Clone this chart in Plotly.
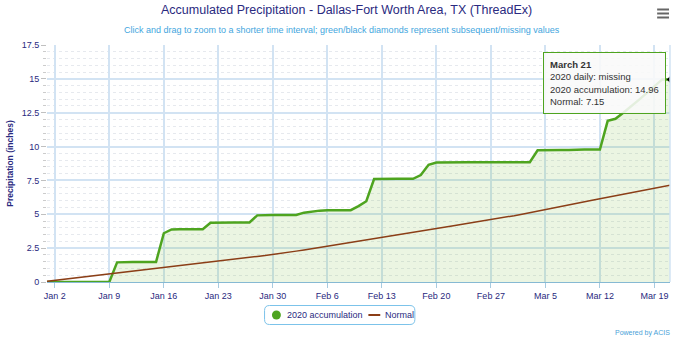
import pandas as pd
import plotly.graph_objects as go

# Daily dates, Jan 1 - Mar 21, 2020
dates = pd.date_range("2020-01-01", "2020-03-21", freq="D")

# Accumulated 2020 precipitation (inches), one value per day
accum_2020 = [
    # Jan 1-31
    0, 0, 0, 0, 0, 0, 0, 0, 0, 1.45,
    1.48, 1.48, 1.48, 1.48, 1.48, 3.60, 3.88, 3.90, 3.90, 3.90,
    3.90, 4.38, 4.40, 4.40, 4.40, 4.40, 4.40, 4.92, 4.95, 4.95,
    4.95,
    # Feb 1-29
    4.95, 4.95, 5.12, 5.20, 5.27, 5.30, 5.30, 5.30, 5.30, 5.60,
    5.96, 7.60, 7.62, 7.62, 7.62, 7.62, 7.62, 7.90, 8.65, 8.82,
    8.84, 8.85, 8.85, 8.85, 8.85, 8.85, 8.85, 8.85, 8.85,
    # Mar 1-21
    8.85, 8.85, 8.85, 9.72, 9.74, 9.74, 9.74, 9.74, 9.78, 9.78,
    9.78, 9.78, 11.90, 12.05, 12.50, 12.95, 13.45, 13.95, 14.45, 14.96,
    14.96,
]

# Normal accumulated precipitation (inches)
normal = [
    # Jan 1-31
    0.05, 0.12, 0.19, 0.25, 0.32, 0.39, 0.46, 0.53, 0.59, 0.66,
    0.73, 0.80, 0.87, 0.93, 1.00, 1.07, 1.14, 1.21, 1.27, 1.34,
    1.41, 1.48, 1.55, 1.61, 1.68, 1.75, 1.82, 1.89, 1.95, 2.02,
    2.09,
    # Feb 1-29
    2.18, 2.28, 2.37, 2.46, 2.56, 2.65, 2.74, 2.83, 2.93, 3.02,
    3.11, 3.21, 3.30, 3.39, 3.49, 3.58, 3.67, 3.76, 3.86, 3.95,
    4.04, 4.14, 4.23, 4.32, 4.42, 4.51, 4.60, 4.69, 4.79,
    # Mar 1-21
    4.90, 5.01, 5.13, 5.24, 5.35, 5.46, 5.58, 5.69, 5.80, 5.91,
    6.03, 6.14, 6.25, 6.36, 6.48, 6.59, 6.70, 6.81, 6.93, 7.04,
    7.15,
]

# Day with a missing daily value (black diamond)
missing_dates = ["2020-03-21"]
missing_values = [14.96]

tick_dates = ["2020-01-02", "2020-01-09", "2020-01-16", "2020-01-23", "2020-01-30",
              "2020-02-06", "2020-02-13", "2020-02-20", "2020-02-27", "2020-03-05",
              "2020-03-12", "2020-03-19"]
tick_labels = ["Jan 2", "Jan 9", "Jan 16", "Jan 23", "Jan 30", "Feb 6", "Feb 13",
               "Feb 20", "Feb 27", "Mar 5", "Mar 12", "Mar 19"]
y_ticks = [0, 2.5, 5, 7.5, 10, 12.5, 15, 17.5]
y_labels = ["0", "2.5", "5", "7.5", "10", "12.5", "15", "17.5"]

GREEN = "#4ea41f"
BROWN = "#8b3e17"
NAVY = "#2a2a80"
GRID = "#d2e3f3"
FONT = "Liberation Sans"

fig = go.Figure()

fig.add_trace(go.Scatter(
    x=dates, y=accum_2020, mode="lines", name="2020 accumulation",
    line=dict(color=GREEN, width=2.5), fill="tozeroy",
    fillcolor="rgba(120,190,60,0.15)", hoverinfo="skip",
))
fig.add_trace(go.Scatter(
    x=dates, y=normal, mode="lines", name="Normal",
    line=dict(color=BROWN, width=1.5), hoverinfo="skip",
))
fig.add_trace(go.Scatter(
    x=missing_dates, y=missing_values, mode="markers",
    marker=dict(symbol="diamond", size=5, color="black"), hoverinfo="skip",
))

# Helpers: pixel position on the page -> paper coordinates
L, R, T, B = 40, 670, 45, 282

def px(x):
    return (x - L) / (R - L)

def py(y):
    return (B - y) / (B - T)

def rounded_rect(x0, y0, x1, y1, r):
    pts = [
        f"M{px(x0 + r)},{py(y0)}",
        f"L{px(x1 - r)},{py(y0)}",
        f"Q{px(x1)},{py(y0)} {px(x1)},{py(y0 + r)}",
        f"L{px(x1)},{py(y1 - r)}",
        f"Q{px(x1)},{py(y1)} {px(x1 - r)},{py(y1)}",
        f"L{px(x0 + r)},{py(y1)}",
        f"Q{px(x0)},{py(y1)} {px(x0)},{py(y1 - r)}",
        f"L{px(x0)},{py(y0 + r)}",
        f"Q{px(x0)},{py(y0)} {px(x0 + r)},{py(y0)}",
        "Z",
    ]
    return " ".join(pts)

shapes = []
# Menu icon
for yy in (9.5, 13.5, 17.5):
    shapes.append(dict(type="line", xref="paper", yref="paper",
                       x0=px(657), x1=px(669), y0=py(yy), y1=py(yy),
                       line=dict(color="#666666", width=2)))
# Right plot border
shapes.append(dict(type="line", xref="paper", yref="paper", x0=1, x1=1, y0=0, y1=1,
                   line=dict(color=GRID, width=1.5)))
# Legend box and symbols
shapes.append(dict(type="path", xref="paper", yref="paper",
                   path=rounded_rect(260, 305.5, 412, 324.5, 5),
                   line=dict(color="#7cc3ea", width=1), fillcolor="white"))
shapes.append(dict(type="circle", xref="paper", yref="paper",
                   x0=px(267.5), x1=px(276.5), y0=py(319.5), y1=py(310.5),
                   line=dict(width=0), fillcolor=GREEN))
shapes.append(dict(type="line", xref="paper", yref="paper",
                   x0=px(365), x1=px(377), y0=py(315), y1=py(315),
                   line=dict(color=BROWN, width=2)))

annotations = [
    dict(text="Accumulated Precipitation - Dallas-Fort Worth Area, TX (ThreadEx)",
         xref="paper", yref="paper", x=px(342.5), y=py(10), xanchor="center",
         yanchor="middle", showarrow=False, font=dict(family=FONT, size=12.5, color=NAVY)),
    dict(text="Click and drag to zoom to a shorter time interval; green/black diamonds represent subsequent/missing values",
         xref="paper", yref="paper", x=px(338.5), y=py(30), xanchor="center",
         yanchor="middle", showarrow=False, font=dict(family=FONT, size=9, color="#44a6de")),
    dict(text="Powered by ACIS", xref="paper", yref="paper", x=px(672), y=py(333),
         xanchor="right", yanchor="middle", showarrow=False,
         font=dict(family=FONT, size=7, color="#4a9fd8")),
    dict(text="2020 accumulation", xref="paper", yref="paper", x=px(280.5), y=py(315),
         xanchor="left", yanchor="middle", showarrow=False,
         font=dict(family=FONT, size=9, color=NAVY)),
    dict(text="Normal", xref="paper", yref="paper", x=px(380), y=py(315),
         xanchor="left", yanchor="middle", showarrow=False,
         font=dict(family=FONT, size=9, color=NAVY)),
    dict(text="<b>March 21</b><br>2020 daily: missing<br>2020 accumulation: 14.96<br>Normal: 7.15",
         xref="paper", yref="paper", x=px(542), y=py(52.5), xanchor="left", yanchor="top",
         align="left", showarrow=False, bgcolor="rgba(249,249,249,0.88)",
         bordercolor=GREEN, borderwidth=1, borderpad=6,
         font=dict(family=FONT, size=9.5, color="#333333")),
]

fig.update_layout(
    width=680, height=346,
    margin=dict(l=L, r=680 - R, t=T, b=346 - B),
    paper_bgcolor="white", plot_bgcolor="white",
    font=dict(family=FONT, size=9, color=NAVY),
    shapes=shapes, annotations=annotations,
    showlegend=False,
    xaxis=dict(
        range=["2020-01-01", "2020-03-21"], tickvals=tick_dates, ticktext=tick_labels,
        showgrid=True, gridcolor=GRID, gridwidth=1.5,
        ticks="outside", ticklen=5, tickcolor="#a8cbe0",
        showline=True, linecolor="#86b9d3", linewidth=1,
        tickfont=dict(family=FONT, size=9, color=NAVY), zeroline=False,
        fixedrange=True,
    ),
    yaxis=dict(
        range=[0, 17.5], tickvals=y_ticks, ticktext=y_labels,
        showgrid=True, gridcolor=GRID, gridwidth=1.5,
        ticks="outside", ticklen=5, tickcolor="#c0c0c0",
        minor=dict(dtick=0.5, showgrid=True, gridcolor="#e6e9ee", griddash="dot",
                   gridwidth=1, ticks="outside", ticklen=3, tickcolor="#cccccc"),
        zeroline=False, showline=False,
        title=dict(text="<b>Precipitation (inches)</b>", standoff=6,
                   font=dict(family=FONT, size=8.5, color=NAVY)),
        tickfont=dict(family=FONT, size=9, color=NAVY),
        fixedrange=True,
    ),
)

fig.write_html("out.html", config={"displayModeBar": False})
